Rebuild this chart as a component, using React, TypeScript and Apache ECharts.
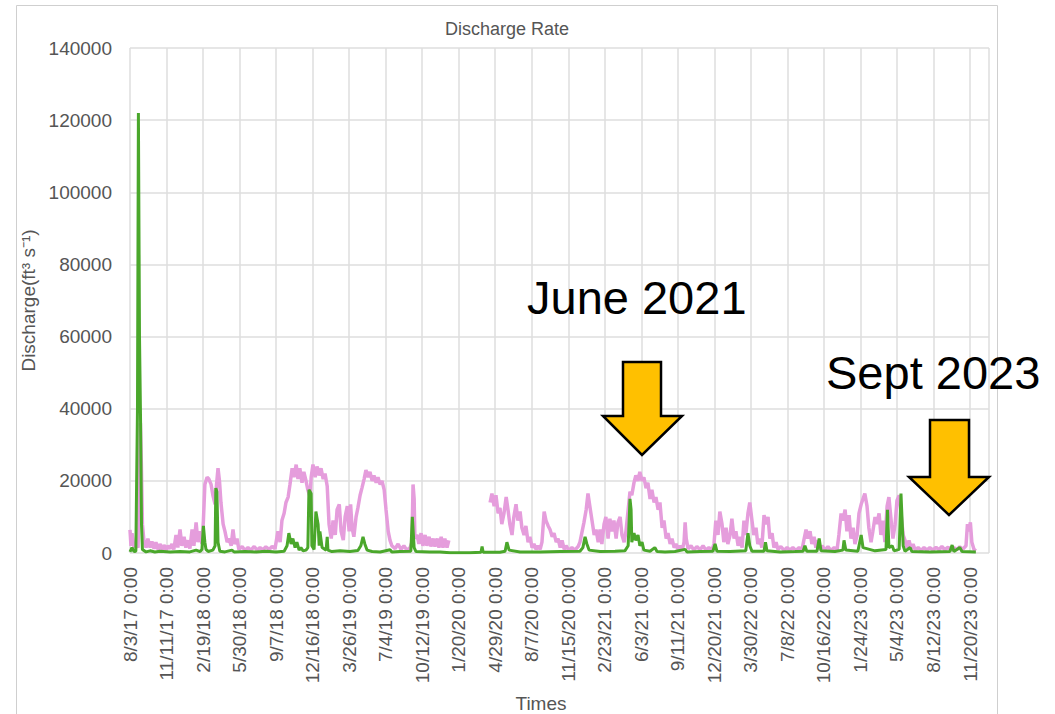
import React, { useEffect, useRef } from "react";
import * as echarts from "echarts";

// X axis: days since the first sample (8/3/17), ticks every 100 days
const startDateUTC = Date.UTC(2017, 7, 3);
const tickIntervalDays = 100;
const axisMaxDays = 2352;
const yTicks = [0, 20000, 40000, 60000, 80000, 100000, 120000, 140000];

// Pink series: [day offset, discharge]
const pinkSeries: (number | string)[][] = [
  [0, 6400], [2.7, 2000], [5.5, 5500], [11, 1500], [16, 2500], [22, 1500], [26, 20000], [28.5, 36000], [31, 25000], [34, 8000],
  [38, 3500], [44, 1500], [49, 4000], [55, 1500], [60, 3200], [66, 1200], [71, 3000], [77, 1000], [82, 2500], [88, 900],
  [93, 2200], [99, 800], [104, 2000], [110, 1200], [115, 2500], [120, 1000], [126, 5000], [131, 1500], [137, 6500], [142, 2000],
  [148, 4500], [153, 1500], [159, 3500], [164, 1200], [170, 6500], [175, 2000], [181, 8500], [186, 3000], [192, 6000], [197, 2500],
  [201, 9000], [205, 19000], [211, 21000], [216, 20500], [222, 19000], [227, 16000], [233, 13500], [237, 19000], [241, 23500], [245, 20000],
  [249, 14000], [255, 8000], [260, 6000], [266, 3000], [271, 4000], [277, 2000], [282, 6500], [287, 2500], [293, 4000], [298, 1000],
  [307, 1800], [315, 700], [323, 1500], [331, 800], [340, 1800], [348, 800], [356, 1500], [364, 900], [372, 1700], [381, 1000],
  [389, 1800], [397, 1200], [405, 6000], [411, 3000], [416, 9000], [422, 11000], [427, 14000], [433, 15500], [438, 19000], [444, 23500],
  [449, 21000], [455, 24500], [460, 20500], [465, 23500], [471, 19500], [476, 22500], [482, 20000], [487, 17500], [493, 15500], [496, 21000],
  [501, 24500], [507, 21000], [512, 24000], [518, 21500], [523, 23500], [529, 20500], [534, 22000], [540, 18500], [545, 8000], [551, 4000],
  [556, 9000], [562, 5000], [567, 12000], [573, 13500], [578, 6000], [584, 3600], [589, 10000], [595, 13000], [600, 6000], [604, 13500],
  [608, 7000], [613, 4500], [619, 10000], [624, 12500], [630, 16000], [635, 18000], [641, 20500], [646, 23000], [652, 21000], [657, 22500],
  [663, 20000], [668, 21500], [674, 19500], [679, 21000], [685, 19000], [690, 20000], [696, 17500], [701, 12000], [707, 6000], [712, 3500],
  [717, 2000], [726, 1200], [734, 2500], [742, 1000], [750, 2000], [758, 800], [767, 1500], [772, 3000], [775, 19000], [778, 15000],
  [780, 4000], [786, 5000], [791, 2500], [797, 5500], [802, 2000], [808, 5000], [813, 2000], [819, 4500], [824, 1800], [830, 4000],
  [835, 1800], [841, 4000], [846, 1500], [852, 4500], [857, 1500], [862, 4000], [868, 1500], [873, 3500], [930, "-"],
  [986, 14000], [991, 16500], [997, 13000], [1002, 16000], [1008, 11000], [1013, 12500], [1018, 8000], [1024, 11000], [1030, 15500], [1035, 12000],
  [1040, 8000], [1046, 5000], [1051, 10000], [1057, 13500], [1062, 9000], [1068, 11500], [1073, 7000], [1079, 5000], [1084, 7500], [1090, 3000],
  [1095, 4500], [1101, 1500], [1106, 2500], [1112, 1000], [1117, 2000], [1123, 1000], [1128, 3000], [1134, 11500], [1139, 9000], [1145, 7500],
  [1150, 6500], [1156, 4500], [1161, 5500], [1167, 3000], [1172, 4000], [1178, 1500], [1183, 3500], [1189, 1000], [1194, 2000], [1202, 700],
  [1210, 1500], [1218, 800], [1227, 1800], [1232, 3000], [1238, 6000], [1243, 8500], [1249, 12000], [1254, 16500], [1259, 13000], [1265, 9000],
  [1271, 5000], [1276, 6500], [1282, 3000], [1287, 6500], [1292, 2500], [1298, 8000], [1303, 10000], [1309, 4000], [1314, 9500], [1320, 6000],
  [1325, 9000], [1331, 4000], [1336, 8500], [1342, 10000], [1347, 5000], [1353, 3000], [1358, 6000], [1364, 12000], [1369, 17000], [1374, 16000],
  [1380, 19500], [1385, 21500], [1391, 20000], [1396, 22500], [1402, 20000], [1407, 21000], [1413, 18000], [1418, 19500], [1424, 15000], [1429, 17500],
  [1435, 14000], [1440, 15500], [1446, 12000], [1451, 14000], [1457, 7000], [1462, 9000], [1468, 4000], [1473, 5500], [1479, 2500], [1484, 4000],
  [1490, 1500], [1495, 2500], [1501, 1000], [1506, 2000], [1512, 800], [1517, 3000], [1520, 8500], [1523, 4000], [1528, 1200], [1536, 2000],
  [1544, 800], [1552, 1800], [1561, 900], [1569, 2000], [1577, 800], [1585, 1500], [1593, 700], [1599, 2500], [1604, 9000], [1610, 5000],
  [1615, 11500], [1621, 8000], [1626, 3000], [1632, 7000], [1637, 2500], [1643, 5000], [1648, 9500], [1654, 4000], [1659, 6000], [1665, 2000],
  [1670, 4500], [1676, 1500], [1681, 9000], [1686, 5000], [1692, 11000], [1697, 14000], [1703, 9000], [1708, 5000], [1714, 7000], [1719, 2500],
  [1725, 4000], [1730, 1500], [1736, 10500], [1741, 8000], [1747, 10000], [1752, 4000], [1758, 5500], [1763, 1500], [1769, 3000], [1774, 1000],
  [1782, 1800], [1791, 700], [1799, 1500], [1807, 800], [1815, 1500], [1823, 700], [1832, 1500], [1840, 900], [1845, 3500], [1851, 6500],
  [1856, 4000], [1862, 6000], [1867, 2500], [1873, 4500], [1878, 1500], [1884, 3500], [1889, 1000], [1895, 2000], [1903, 800], [1911, 1800],
  [1919, 700], [1928, 1500], [1936, 900], [1941, 5000], [1947, 11000], [1952, 9000], [1958, 12000], [1963, 6000], [1969, 10500], [1974, 4000],
  [1980, 7000], [1985, 2500], [1991, 5000], [1996, 11000], [2002, 13500], [2007, 15000], [2012, 16500], [2018, 13000], [2023, 7000], [2029, 3000],
  [2034, 6000], [2040, 10000], [2045, 8000], [2051, 11000], [2056, 5000], [2062, 9000], [2067, 3000], [2073, 13000], [2078, 15500], [2084, 9000],
  [2089, 4000], [2095, 8000], [2100, 14500], [2106, 16000], [2111, 11000], [2117, 5000], [2122, 3500], [2128, 1500], [2133, 3500], [2139, 1200],
  [2144, 2500], [2150, 800], [2158, 1500], [2166, 700], [2174, 1500], [2182, 800], [2190, 1500], [2199, 800], [2207, 1600], [2215, 900],
  [2223, 1800], [2231, 900], [2240, 1600], [2248, 800], [2256, 1500], [2264, 900], [2272, 1700], [2280, 1000], [2289, 2000], [2293, 8000],
  [2297, 6000], [2301, 8500], [2305, 3000], [2311, 1000], [2316, 600],
];

// Green series: [day offset, discharge]
const greenSeries: number[][] = [
  [0, 300], [5.5, 1500], [11, 400], [16, 500], [20.5, 40000], [23, 122000], [26, 60000], [29, 36000], [31.5, 8000], [34, 1000],
  [44, 300], [55, 600], [68, 300], [82, 500], [110, 300], [137, 400], [164, 300], [181, 800], [192, 400], [197, 1000],
  [201, 7500], [205, 3000], [208, 1000], [214, 400], [227, 800], [233, 2000], [235, 18000], [238, 17000], [241, 3000], [246, 500],
  [260, 300], [279, 800], [285, 300], [315, 400], [345, 300], [372, 500], [400, 300], [422, 500], [430, 2000], [435, 5500],
  [441, 2500], [446, 4000], [452, 1500], [457, 3000], [463, 800], [468, 1500], [474, 600], [482, 800], [487, 1500], [490, 17500],
  [496, 16500], [498, 2000], [504, 1000], [509, 11500], [515, 8000], [518, 2000], [520, 6000], [526, 1500], [537, 800], [540, 4500],
  [542, 800], [553, 400], [575, 600], [602, 400], [624, 700], [632, 2000], [638, 4500], [643, 2500], [649, 800], [663, 400],
  [685, 300], [712, 900], [717, 300], [739, 400], [769, 500], [773, 10000], [778, 1500], [783, 400], [821, 300], [849, 300],
  [876, 100], [931, 50], [961, 200], [964, 1800], [967, 200], [1013, 200], [1027, 500], [1032, 3000], [1038, 800], [1068, 300],
  [1123, 300], [1178, 400], [1232, 500], [1240, 1500], [1246, 4500], [1251, 2500], [1257, 800], [1287, 400], [1328, 500], [1355, 600],
  [1364, 2000], [1369, 15000], [1372, 12000], [1374, 3000], [1380, 5500], [1385, 3500], [1391, 5000], [1396, 2000], [1402, 3000], [1407, 800],
  [1424, 500], [1437, 1500], [1443, 400], [1465, 300], [1492, 400], [1520, 1000], [1525, 300], [1561, 400], [1596, 500], [1602, 2500],
  [1607, 500], [1643, 400], [1686, 600], [1692, 5500], [1697, 2000], [1703, 500], [1736, 500], [1740, 3000], [1744, 600], [1780, 300],
  [1821, 400], [1843, 500], [1848, 2000], [1853, 500], [1881, 500], [1887, 4000], [1892, 600], [1930, 400], [1952, 800], [1955, 3500],
  [1960, 800], [1993, 500], [2002, 5000], [2007, 1500], [2040, 600], [2070, 1000], [2074, 12000], [2078, 1500], [2087, 2000], [2092, 600],
  [2106, 1000], [2111, 16500], [2117, 2000], [2122, 500], [2136, 1500], [2141, 400], [2190, 300], [2245, 400], [2251, 2200], [2256, 400],
  [2272, 1500], [2278, 400], [2316, 300],
];

const FONT = "'Liberation Sans', Arial, sans-serif";

function dayLabel(v: number): string {
  if (Math.abs(v % tickIntervalDays) > 1e-6) return "";
  const d = new Date(startDateUTC + v * 86400000);
  const yy = String(d.getUTCFullYear() % 100).padStart(2, "0");
  return `${d.getUTCMonth() + 1}/${d.getUTCDate()}/${yy} 0:00`;
}

export default function App() {
  const ref = useRef<HTMLDivElement>(null);
  useEffect(() => {
    if (!ref.current) return;
    const chart = echarts.init(ref.current, undefined, { renderer: "svg" });
    const arrowStyle = { fill: "#FFC000", stroke: "#000", lineWidth: 2.5 };
    chart.setOption({
      animation: false,
      backgroundColor: "#fff",
      grid: { left: 130, top: 48, right: 66, bottom: 161, containLabel: false },
      xAxis: {
        type: "value",
        min: 0,
        max: axisMaxDays,
        interval: tickIntervalDays,
        axisLine: { show: false },
        axisTick: { show: false },
        splitLine: { show: true, lineStyle: { color: "#dedede", width: 1.5 } },
        axisLabel: {
          rotate: 90,
          margin: 14,
          fontSize: 19,
          color: "#555",
          fontFamily: FONT,
          formatter: (v: number) => dayLabel(v),
          showMaxLabel: false,
        },
      },
      yAxis: {
        type: "value",
        min: yTicks[0],
        max: yTicks[yTicks.length - 1],
        interval: yTicks[1] - yTicks[0],
        axisLine: { show: false },
        axisTick: { show: false },
        splitLine: { show: true, lineStyle: { color: "#dedede", width: 1.5 } },
        axisLabel: {
          margin: 18,
          fontSize: 19,
          color: "#555",
          fontFamily: FONT,
          formatter: (v: number) => String(v),
        },
        name: "Discharge(ft³ s⁻¹)",
        nameLocation: "middle",
        nameRotate: 90,
        nameGap: 88,
        nameTextStyle: { fontSize: 19, color: "#555", fontFamily: FONT },
      },
      series: [
        {
          type: "line",
          data: pinkSeries,
          showSymbol: false,
          symbol: "none",
          connectNulls: false,
          lineStyle: { color: "#e59ddc", width: 3.5 },
          z: 2,
        },
        {
          type: "line",
          data: greenSeries,
          showSymbol: false,
          symbol: "none",
          lineStyle: { color: "#4aa72b", width: 3 },
          z: 3,
        },
      ],
      graphic: [
        {
          type: "rect",
          shape: { x: 16.5, y: 5.5, width: 981, height: 760 },
          style: { fill: "none", stroke: "#cfcfcf", lineWidth: 1 },
          silent: true,
          z: -1,
        },
        {
          type: "text",
          x: 507,
          y: 29,
          style: { text: "Discharge Rate", fontSize: 18, fill: "#555", fontFamily: FONT, textAlign: "center", textVerticalAlign: "middle" },
        },
        {
          type: "text",
          x: 541,
          y: 703,
          style: { text: "Times", fontSize: 19, fill: "#555", fontFamily: FONT, textAlign: "center", textVerticalAlign: "middle" },
        },
        {
          type: "text",
          x: 527,
          y: 297,
          style: { text: "June 2021", fontSize: 47, fill: "#000", fontFamily: FONT, textAlign: "left", textVerticalAlign: "middle" },
          z: 10,
        },
        {
          type: "text",
          x: 826,
          y: 372,
          style: { text: "Sept 2023", fontSize: 47, fill: "#000", fontFamily: FONT, textAlign: "left", textVerticalAlign: "middle" },
          z: 10,
        },
        {
          type: "polygon",
          shape: { points: [[623, 362], [661, 362], [661, 416], [682, 416], [642, 455], [603, 416], [623, 416]] },
          style: arrowStyle,
          z: 10,
        },
        {
          type: "polygon",
          shape: { points: [[930, 420], [969, 420], [969, 477], [989, 477], [949, 515], [909, 477], [930, 477]] },
          style: arrowStyle,
          z: 10,
        },
      ],
    });
    return () => chart.dispose();
  }, []);
  return (
    <div
      ref={ref}
      style={{ position: "fixed", left: 0, top: 0, width: 1055, height: 714, background: "#fff" }}
    />
  );
}
